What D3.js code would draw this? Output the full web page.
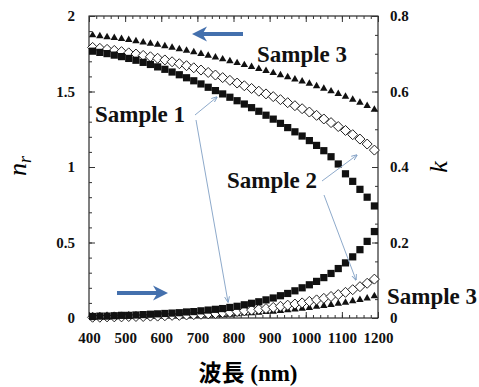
<!DOCTYPE html>
<html>
<head>
<meta charset="utf-8">
<script src="https://cdn.jsdelivr.net/npm/d3@7"></script>
<style>
  body { margin: 0; background: #fff; }
  svg { display: block; }
  text { font-family: "Liberation Serif", "DejaVu Serif", serif; font-weight: bold; }
</style>
</head>
<body>
<svg width="479" height="387"></svg>
<script>
// wavelength (nm)
const wavelength = [410, 430, 450, 470, 490, 510, 530, 550, 570, 590, 610, 630, 650, 670, 690,
  710, 730, 750, 770, 790, 810, 830, 850, 870, 890, 910, 930, 950, 970, 990, 1010, 1030, 1050,
  1070, 1090, 1110, 1130, 1150, 1170, 1190];

// refractive index n_r (left axis)
const nrSample1 = [1.767, 1.759, 1.751, 1.741, 1.731, 1.719, 1.707, 1.693, 1.679, 1.663, 1.647,
  1.629, 1.611, 1.591, 1.571, 1.550, 1.528, 1.506, 1.484, 1.462, 1.439, 1.417, 1.393, 1.369,
  1.343, 1.317, 1.289, 1.261, 1.233, 1.205, 1.175, 1.143, 1.108, 1.068, 1.020, 0.955, 0.905,
  0.852, 0.800, 0.742];
const nrSample2 = [1.792, 1.786, 1.779, 1.772, 1.764, 1.756, 1.748, 1.739, 1.730, 1.720, 1.709,
  1.697, 1.684, 1.671, 1.657, 1.642, 1.626, 1.609, 1.592, 1.574, 1.556, 1.538, 1.520, 1.502,
  1.484, 1.466, 1.446, 1.426, 1.406, 1.386, 1.364, 1.342, 1.318, 1.294, 1.268, 1.242, 1.214,
  1.185, 1.152, 1.112];
const nrSample3 = [1.873, 1.867, 1.861, 1.855, 1.849, 1.842, 1.834, 1.826, 1.818, 1.810, 1.801,
  1.791, 1.781, 1.771, 1.761, 1.750, 1.738, 1.726, 1.714, 1.702, 1.689, 1.676, 1.663, 1.650,
  1.637, 1.623, 1.609, 1.595, 1.581, 1.567, 1.552, 1.536, 1.519, 1.502, 1.484, 1.466, 1.447,
  1.427, 1.405, 1.380];

// extinction coefficient k (right axis)
const kSample1 = [0.004, 0.005, 0.005, 0.006, 0.007, 0.007, 0.008, 0.009, 0.010, 0.011, 0.012,
  0.013, 0.014, 0.016, 0.017, 0.019, 0.021, 0.023, 0.025, 0.028, 0.031, 0.035, 0.039, 0.043,
  0.048, 0.053, 0.059, 0.065, 0.072, 0.080, 0.088, 0.097, 0.107, 0.118, 0.131, 0.146, 0.162,
  0.181, 0.203, 0.229];
const kSample2 = [0.002, 0.002, 0.003, 0.003, 0.003, 0.004, 0.004, 0.004, 0.005, 0.005, 0.006,
  0.007, 0.007, 0.008, 0.009, 0.010, 0.011, 0.012, 0.014, 0.015, 0.017, 0.019, 0.021, 0.023,
  0.025, 0.028, 0.031, 0.034, 0.037, 0.040, 0.044, 0.048, 0.052, 0.057, 0.062, 0.068, 0.075,
  0.083, 0.092, 0.103];
const kSample3 = [0.002, 0.002, 0.002, 0.003, 0.003, 0.003, 0.003, 0.004, 0.004, 0.004, 0.005,
  0.005, 0.005, 0.006, 0.006, 0.007, 0.007, 0.008, 0.008, 0.009, 0.010, 0.012, 0.013, 0.014,
  0.016, 0.017, 0.019, 0.021, 0.023, 0.025, 0.027, 0.030, 0.032, 0.035, 0.038, 0.041, 0.045,
  0.048, 0.052, 0.058];

const xTicks = [400, 500, 600, 700, 800, 900, 1000, 1100, 1200];
const nrTicks = [0, 0.5, 1, 1.5, 2];
const kTicks = [0, 0.2, 0.4, 0.6, 0.8];

const svg = d3.select('svg');
const plot = { left: 89, right: 378, top: 16, bottom: 318 };

const x = d3.scaleLinear().domain([400, 1200]).range([plot.left, plot.right]);
const yL = d3.scaleLinear().domain([0, 2]).range([plot.bottom, plot.top]);
const yR = d3.scaleLinear().domain([0, 0.8]).range([plot.bottom, plot.top]);

// frame
svg.append('rect')
  .attr('x', plot.left).attr('y', plot.top)
  .attr('width', plot.right - plot.left).attr('height', plot.bottom - plot.top)
  .attr('fill', 'none').attr('stroke', '#000').attr('stroke-width', 1);

// inward ticks: major + minor
const tickStyle = g => g.call(s => s.select('.domain').remove())
  .call(s => s.selectAll('line').attr('stroke', '#333'));
const labelStyle = g => g.selectAll('text').attr('font-size', 15).attr('fill', '#111')
  .style('font-family', '"Liberation Serif", serif').style('font-weight', 'bold');

svg.append('g').attr('transform', `translate(0,${plot.bottom})`)
  .call(d3.axisBottom(x).tickValues(d3.range(400, 1201, 20)).tickSize(-3).tickFormat(''))
  .call(tickStyle);
svg.append('g').attr('transform', `translate(0,${plot.bottom})`)
  .call(d3.axisBottom(x).tickValues(xTicks).tickSize(-6).tickPadding(14).tickFormat(d3.format('d')))
  .call(tickStyle).call(labelStyle);
svg.append('g').attr('transform', `translate(0,${plot.top})`)
  .call(d3.axisTop(x).tickValues(d3.range(400, 1201, 20)).tickSize(-3).tickFormat(''))
  .call(tickStyle);
svg.append('g').attr('transform', `translate(0,${plot.top})`)
  .call(d3.axisTop(x).tickValues(xTicks).tickSize(-6).tickFormat(''))
  .call(tickStyle);

svg.append('g').attr('transform', `translate(${plot.left},0)`)
  .call(d3.axisLeft(yL).tickValues(d3.range(0, 2.001, 0.1)).tickSize(-3).tickFormat(''))
  .call(tickStyle);
svg.append('g').attr('transform', `translate(${plot.left},0)`)
  .call(d3.axisLeft(yL).tickValues(nrTicks).tickSize(-6).tickPadding(14).tickFormat(d => d))
  .call(tickStyle).call(labelStyle);

svg.append('g').attr('transform', `translate(${plot.right},0)`)
  .call(d3.axisRight(yR).tickValues(d3.range(0, 0.801, 0.05)).tickSize(-3).tickFormat(''))
  .call(tickStyle);
svg.append('g').attr('transform', `translate(${plot.right},0)`)
  .call(d3.axisRight(yR).tickValues(kTicks).tickSize(-6).tickPadding(12).tickFormat(d => d))
  .call(tickStyle).call(labelStyle);

// markers
const square = d3.symbol().type(d3.symbolSquare).size(52);
const diamond = 'M0,-5L5,0L0,5L-5,0Z';
const triangle = d3.symbol().type(d3.symbolTriangle).size(24);

function drawSeries(values, scale, kind) {
  const pts = wavelength.map((w, i) => ({ w, v: values[i] }));
  const g = svg.append('g');
  const sel = g.selectAll('path').data(pts).join('path')
    .attr('transform', d => `translate(${x(d.w)},${scale(d.v)})`);
  if (kind === 'square') sel.attr('d', square).attr('fill', '#111');
  if (kind === 'diamond') sel.attr('d', diamond).attr('fill', '#fff').attr('stroke', '#222').attr('stroke-width', 1);
  if (kind === 'triangle') sel.attr('d', triangle).attr('fill', '#111');
}

drawSeries(kSample3, yR, 'triangle');
drawSeries(kSample2, yR, 'diamond');
drawSeries(kSample1, yR, 'square');
drawSeries(nrSample3, yL, 'triangle');
drawSeries(nrSample2, yL, 'diamond');
drawSeries(nrSample1, yL, 'square');

// axis titles
svg.append('text')
  .attr('transform', 'translate(26,166) rotate(-90)')
  .attr('text-anchor', 'middle')
  .style('font-style', 'italic').style('font-weight', 'normal')
  .attr('font-size', 26)
  .html('n<tspan font-size="18" dy="5">r</tspan>');
svg.append('text')
  .attr('transform', 'translate(447,167) rotate(-90)')
  .attr('text-anchor', 'middle')
  .style('font-style', 'italic').style('font-weight', 'normal')
  .attr('font-size', 26)
  .text('k');
svg.append('text')
  .attr('x', 248).attr('y', 381)
  .attr('text-anchor', 'middle')
  .attr('font-size', 23)
  .html('<tspan style="font-family:\'Noto Sans CJK JP\'">波長</tspan> (nm)');

// sample labels
const labels = [
  { text: 'Sample 3', x: 257, y: 62 },
  { text: 'Sample 1', x: 95, y: 122 },
  { text: 'Sample 2', x: 227, y: 188 },
  { text: 'Sample 3', x: 387, y: 304 }
];
svg.selectAll('text.lbl').data(labels).join('text')
  .attr('class', 'lbl')
  .attr('x', d => d.x).attr('y', d => d.y)
  .attr('font-size', 22.5).attr('fill', '#111')
  .attr('textLength', 90).attr('lengthAdjust', 'spacingAndGlyphs')
  .text(d => d.text);

// leader lines
const defs = svg.append('defs');
defs.append('marker').attr('id', 'thin').attr('viewBox', '0 0 10 10')
  .attr('refX', 9).attr('refY', 5).attr('markerWidth', 6).attr('markerHeight', 6)
  .attr('orient', 'auto')
  .append('path').attr('d', 'M0,1L10,5L0,9').attr('fill', 'none').attr('stroke', '#7f9fc4').attr('stroke-width', 1.5);
const leaders = [
  [195, 115, 217, 97],
  [196, 120, 228, 302],
  [322, 181, 357, 155],
  [324, 195, 356, 280]
];
svg.selectAll('line.leader').data(leaders).join('line')
  .attr('class', 'leader')
  .attr('x1', d => d[0]).attr('y1', d => d[1]).attr('x2', d => d[2]).attr('y2', d => d[3])
  .attr('stroke', '#8eaacb').attr('stroke-width', 1)
  .attr('marker-end', 'url(#thin)');

// blue direction arrows
defs.append('marker').attr('id', 'blue').attr('viewBox', '0 0 10 10')
  .attr('refX', 6).attr('refY', 5).attr('markerWidth', 3.8).attr('markerHeight', 3.8)
  .attr('orient', 'auto')
  .append('path').attr('d', 'M0,0L10,5L0,10L3,5Z').attr('fill', '#4470ad');
const arrows = [
  [243, 34, 198, 34],
  [117, 293, 162, 293]
];
svg.selectAll('line.dir').data(arrows).join('line')
  .attr('class', 'dir')
  .attr('x1', d => d[0]).attr('y1', d => d[1]).attr('x2', d => d[2]).attr('y2', d => d[3])
  .attr('stroke', '#4470ad').attr('stroke-width', 4)
  .attr('marker-end', 'url(#blue)');
</script>
</body>
</html>
